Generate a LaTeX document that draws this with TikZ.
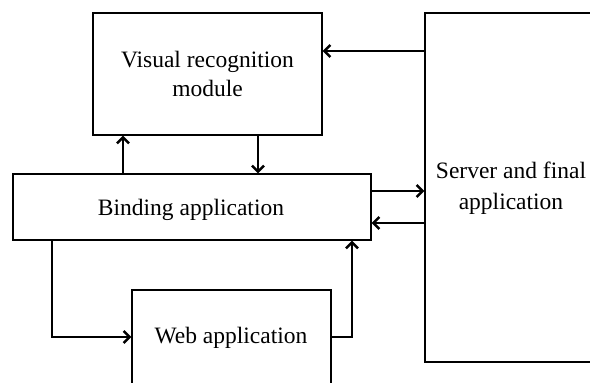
\documentclass[tikz,border=0pt]{standalone}
\usepackage{fontspec}
\setmainfont{Liberation Serif}
\usetikzlibrary{arrows.meta}
\begin{document}
\begin{tikzpicture}[x=1pt,y=-1pt,
  box/.style={draw, line width=1.4pt, rectangle, inner sep=0pt, align=center,
    font=\fontsize{23.5}{28.5}\selectfont},
  lbl/.style={inner sep=0pt, align=center, font=\fontsize{23.5}{30.5}\selectfont},
  arr/.style={line width=2.5pt, -{Straight Barb[length=6pt,width=12pt,line width=2.5pt]}}]
  \useasboundingbox (0,0) rectangle (590,383);
  \fill[white] (0,0) rectangle (590,383);
  \clip (0,0) rectangle (590,383);

  % blocks
  \node[box, minimum width=229pt, minimum height=122pt] (visual) at (207.5,74)
    {Visual recognition\\module};
  \node[box, minimum width=358pt, minimum height=66pt] (binding) at (192,207) {};
  \node[lbl] (bindtxt) at (191,210) {Binding application};
  \node[box, minimum width=199pt, minimum height=110pt] (web) at (231.5,345) {};
  \node[lbl] (webtxt) at (231,338) {Web application};
  \node[box, minimum width=185pt, minimum height=349pt] (server) at (517.5,187.5) {};
  \node[lbl] (servtxt) at (511,188) {Server and final\\application};

  % connectors
  \draw[arr] (server.west |- 0,51) -- (visual.east |- 0,51);
  \draw[arr] (binding.north -| 123,0) -- (visual.south -| 123,0);
  \draw[arr] (visual.south -| 258,0) -- (binding.north -| 258,0);
  \draw[arr] (binding.east |- 0,191) -- (server.west |- 0,191);
  \draw[arr] (server.west |- 0,223) -- (binding.east |- 0,223);
  \draw[arr] (binding.south -| 52,0) |- (web.west |- 0,337);
  \draw[arr] (web.east |- 0,337) -| (binding.south -| 352,0);
\end{tikzpicture}
\end{document}
